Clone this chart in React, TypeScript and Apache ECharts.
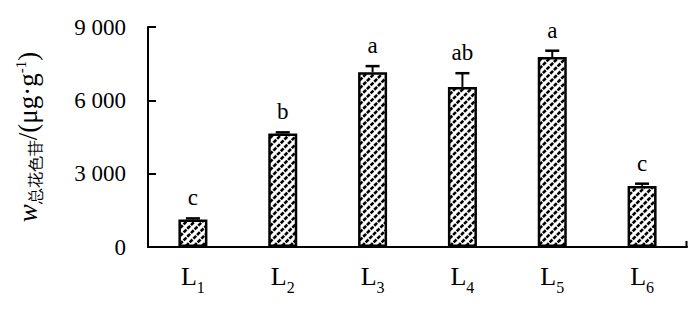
import React, { useEffect, useRef } from 'react';
import * as echarts from 'echarts';

const categories = ['L1', 'L2', 'L3', 'L4', 'L5', 'L6'];
const values = [1130, 4640, 7150, 6550, 7770, 2500];
const errors = [40, 50, 250, 560, 260, 90];
const letters = ['c', 'b', 'a', 'ab', 'a', 'c'];
const yMin = 0;
const yMax = 9000;
const yStep = 3000;

const SERIF = 'Liberation Serif';
const BAR_W = 29;

export default function App() {
  const ref = useRef<HTMLDivElement>(null);
  useEffect(() => {
    const chart = echarts.init(ref.current!, null, { renderer: 'svg' });
    chart.setOption({
      animation: false,
      backgroundColor: '#fff',
      grid: { left: 148, right: 13, top: 27, bottom: 62 },
      xAxis: {
        type: 'category',
        data: categories,
        axisLine: { show: true, lineStyle: { color: '#000', width: 2 } },
        axisTick: { show: false },
        axisLabel: {
          margin: 16,
          formatter: (v: string) => `{L|${v.charAt(0)}}{sub|${v.slice(1)}}`,
          rich: {
            L: { fontFamily: SERIF, fontSize: 26, color: '#000', lineHeight: 32, verticalAlign: 'top' },
            sub: { fontFamily: SERIF, fontSize: 16, color: '#000', verticalAlign: 'bottom', lineHeight: 16 },
          },
        },
      },
      yAxis: {
        type: 'value',
        min: yMin,
        max: yMax,
        interval: yStep,
        name: '{w|w}{s|总花色苷}{n|/(μg·g}{sup|-1}{n|)}',
        nameLocation: 'middle',
        nameRotate: 90,
        nameGap: 105,
        nameTextStyle: {
          fontFamily: SERIF,
          color: '#000',
          rich: {
            w: { fontFamily: SERIF, fontStyle: 'italic', fontSize: 27, lineHeight: 30, color: '#000' },
            s: { fontFamily: SERIF, fontSize: 16, lineHeight: 16, verticalAlign: 'bottom', color: '#000' },
            n: { fontFamily: SERIF, fontSize: 27, lineHeight: 30, color: '#000' },
            sup: { fontFamily: SERIF, fontSize: 15, lineHeight: 15, verticalAlign: 'top', color: '#000' },
          },
        },
        axisLine: { show: true, lineStyle: { color: '#000', width: 2 } },
        axisTick: { show: true, inside: true, length: 8, lineStyle: { color: '#000', width: 2 } },
        splitLine: { show: false },
        axisLabel: {
          margin: 22,
          fontFamily: SERIF,
          fontSize: 23,
          color: '#000',
          formatter: (v: number) => (v === 0 ? '0' : `${v / 1000} 000`),
        },
      },
      graphic: [
        {
          type: 'line',
          shape: { x1: 686.5, y1: 247, x2: 686.5, y2: 241 },
          style: { stroke: '#000', lineWidth: 2 },
        },
      ],
      series: [
        {
          type: 'bar',
          data: values,
          barWidth: BAR_W,
          itemStyle: { color: '#fff', borderColor: '#000', borderWidth: 2.5 },
          z: 2,
        },
        {
          type: 'custom',
          z: 3,
          data: categories.map((c, i) => [i, values[i]]),
          renderItem: (params: any, api: any) => {
            const i = api.value(0);
            const v = api.value(1);
            const top = api.coord([i, v]);
            const bot = api.coord([i, 0]);
            const x0 = top[0] - BAR_W / 2 + 1.5;
            const x1 = top[0] + BAR_W / 2 - 1.5;
            const yT = top[1] + 1.5;
            const yB = bot[1] - 1;
            const step = 8;
            const children: any[] = [];
            for (let c = Math.ceil((x0 + yT) / step) * step; c < x1 + yB; c += step) {
              const xa = Math.max(x0, c - yB);
              const xb = Math.min(x1, c - yT);
              if (xb - xa > 0.5) {
                children.push({
                  type: 'line',
                  shape: { x1: xa, y1: c - xa, x2: xb, y2: c - xb },
                  style: { stroke: '#000', lineWidth: 2.6, lineDash: [4, 1.2] },
                });
              }
            }
            return { type: 'group', children };
          },
        },
        {
          type: 'custom',
          z: 4,
          data: categories.map((c, i) => [i, values[i], errors[i]]),
          renderItem: (params: any, api: any) => {
            const i = api.value(0);
            const v = api.value(1);
            const e = api.value(2);
            const top = api.coord([i, v]);
            const cap = api.coord([i, v + e]);
            const w = 7;
            return {
              type: 'group',
              children: [
                { type: 'line', shape: { x1: top[0], y1: top[1], x2: cap[0], y2: cap[1] }, style: { stroke: '#000', lineWidth: 2 } },
                { type: 'line', shape: { x1: cap[0] - w, y1: cap[1], x2: cap[0] + w, y2: cap[1] }, style: { stroke: '#000', lineWidth: 2.5 } },
                {
                  type: 'text',
                  x: cap[0],
                  y: cap[1] - 9,
                  style: {
                    text: letters[i],
                    fill: '#000',
                    fontFamily: SERIF,
                    fontSize: 23,
                    textAlign: 'center',
                    textVerticalAlign: 'bottom',
                  },
                },
              ],
            };
          },
        },
      ],
    });
    return () => chart.dispose();
  }, []);
  return <div ref={ref} style={{ position: 'absolute', left: 0, top: 0, width: 700, height: 309 }} />;
}
